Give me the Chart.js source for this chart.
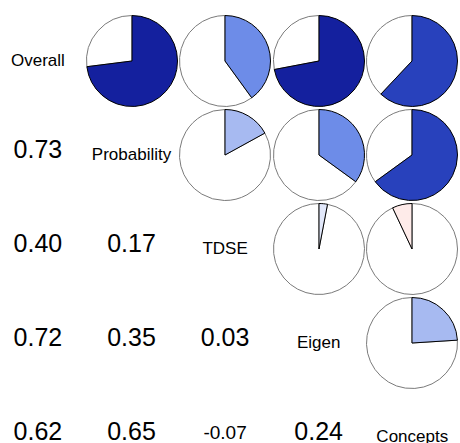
<!DOCTYPE html>
<html>
<head>
<meta charset="utf-8">
<script src="https://cdn.jsdelivr.net/npm/chart.js@4"></script>
<style>
  html, body { margin: 0; padding: 0; background: #fff; }
  body { width: 460px; height: 443px; overflow: hidden; position: relative;
         font-family: "Liberation Sans", Arial, Helvetica, sans-serif; color: #000; }
  #grid { position: absolute; left: -8.9px; top: 13.5px; display: grid;
          grid-template-columns: repeat(5, 93.6px); grid-template-rows: repeat(5, 94px); }
  .cell { display: flex; align-items: center; justify-content: center; white-space: nowrap; }
  .label { font-size: 17px; }
  .num { font-size: 25px; position: relative; top: -5px; }
  .num.neg { font-size: 19px; top: -4px; }
  canvas { display: block; }
</style>
</head>
<body>
<div id="grid"></div>
<script>
// -------------------------- Données -------------------------------
const variables = ['Overall', 'Probability', 'TDSE', 'Eigen', 'Concepts'];

// correlations, une ligne par variable
const corOverall     = [1.00, 0.73, 0.40, 0.72, 0.62];
const corProbability = [0.73, 1.00, 0.17, 0.35, 0.65];
const corTDSE        = [0.40, 0.17, 1.00, 0.03, -0.07];
const corEigen       = [0.72, 0.35, 0.03, 1.00, 0.24];
const corConcepts    = [0.62, 0.65, -0.07, 0.24, 1.00];

const corMatrix = [corOverall, corProbability, corTDSE, corEigen, corConcepts];

// -------------------------- Palette (rouge -> blanc -> bleu) -------------------------------
const rampColors = [[255, 0, 0], [250, 128, 114], [255, 255, 255], [65, 105, 225], [0, 0, 128]];
const nColors = 14;

function rampColor(t) {
    var seg = Math.min(Math.floor(t * 4), 3);
    var f = t * 4 - seg;
    var a = rampColors[seg], b = rampColors[seg + 1];
    var c = a.map((v, k) => Math.round(v + (b[k] - v) * f));
    return 'rgb(' + c.join(',') + ')';
}

function corColor(r) {
    var bin = Math.ceil((r + 1) / 2 * nColors);
    if (bin < 1) bin = 1;
    return rampColor((bin - 1) / (nColors - 1));
}

// -------------------------- Création d'un camembert -------------------------------
function createPie(canvas, r) {
    var a = Math.abs(r);
    return new Chart(canvas.getContext('2d'), {
        type: 'pie',
        data: {
            labels: ['', ''],
            datasets: [{
                data: [1 - a, a],
                backgroundColor: ['#ffffff', corColor(r)],
                borderColor: ['#7a7a7a', '#000000'],
                borderWidth: 1
            }]
        },
        options: {
            responsive: false,
            animation: false,
            events: [],
            rotation: r >= 0 ? a * 360 : 0,
            layout: { padding: 0 },
            plugins: {
                legend: { display: false },
                tooltip: { enabled: false }
            }
        }
    });
}

// -------------------------- Grille -------------------------------
const grid = document.getElementById('grid');
for (var i = 0; i < variables.length; i++) {
    for (var j = 0; j < variables.length; j++) {
        var cell = document.createElement('div');
        cell.className = 'cell';
        grid.appendChild(cell);
        var r = corMatrix[i][j];
        if (i === j) {
            var lab = document.createElement('span');
            lab.className = 'label';
            lab.textContent = variables[i];
            cell.appendChild(lab);
        } else if (j < i) {
            var num = document.createElement('span');
            num.className = r < 0 ? 'num neg' : 'num';
            num.textContent = r.toFixed(2);
            cell.appendChild(num);
        } else {
            var cv = document.createElement('canvas');
            cv.width = 92;
            cv.height = 92;
            cell.appendChild(cv);
            createPie(cv, r);
        }
    }
}
</script>
</body>
</html>
